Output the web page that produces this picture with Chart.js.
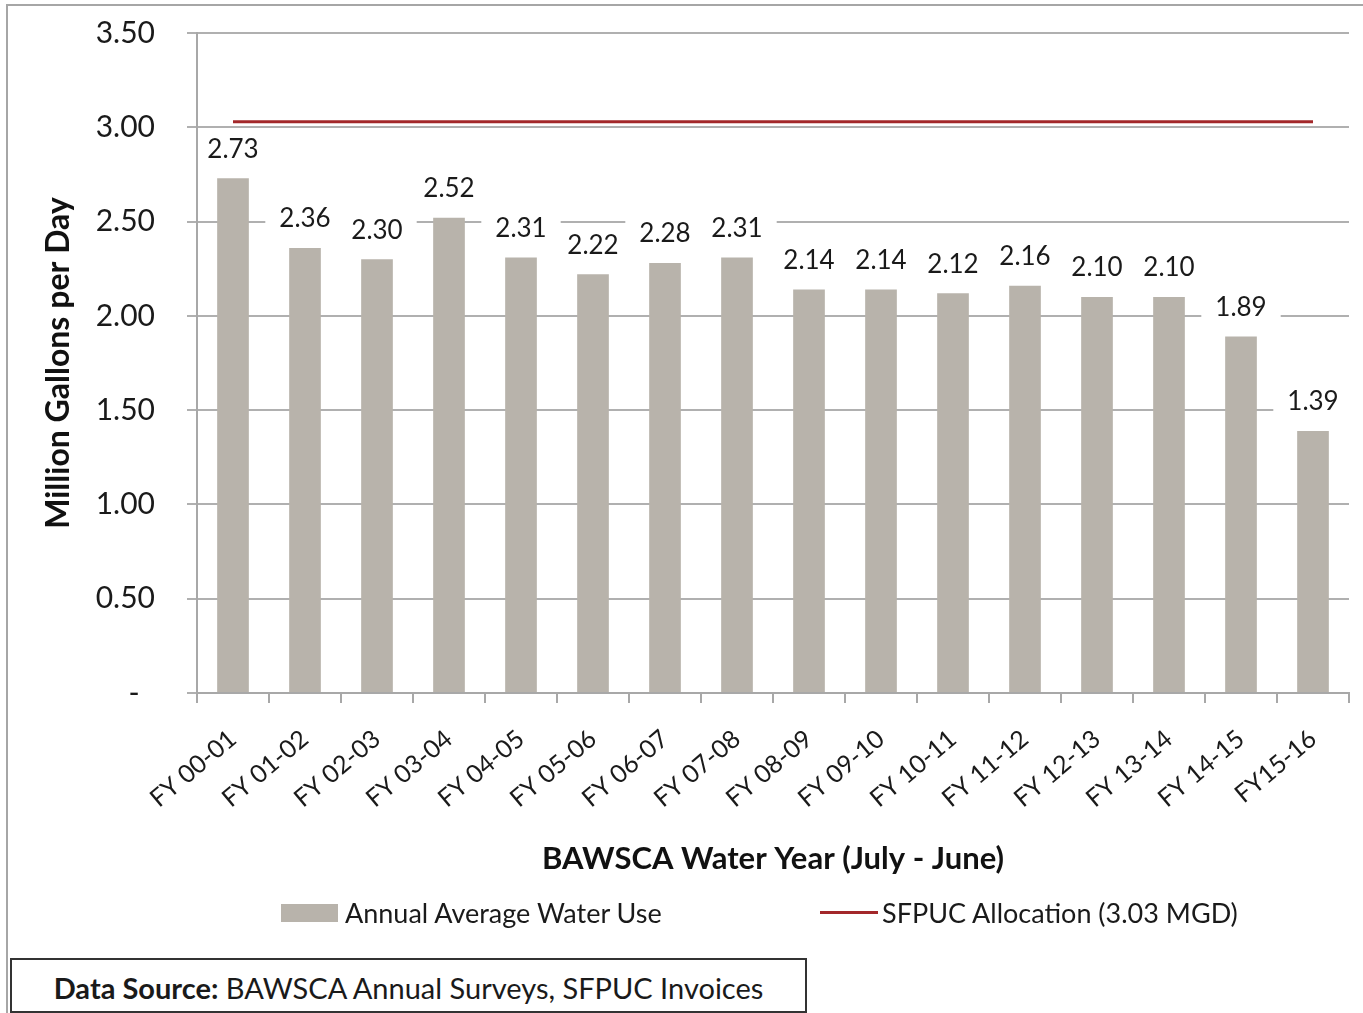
<!DOCTYPE html>
<html>
<head>
<meta charset="utf-8">
<script src="https://cdn.jsdelivr.net/npm/chart.js@4/dist/chart.umd.min.js"></script>
<style>
  html, body { margin: 0; padding: 0; background: #ffffff; }
  body { width: 1363px; height: 1013px; position: relative; overflow: hidden; font-family: Lato, "Open Sans", sans-serif; }
  #frame { position: absolute; left: 6px; top: 4px; width: 1400px; height: 1100px; border: 2px solid #a6a6a6; box-sizing: border-box; }
  #chart { position: absolute; left: 0; top: 0; }
  .legend-item { position: absolute; display: flex; align-items: center; font-size: 27px; color: #1a1a1a; white-space: nowrap; }
  .sw-bar { width: 57px; height: 18px; background: #b8b3ab; margin-right: 7px; }
  .sw-line { width: 58px; height: 3px; background: #a3282a; margin-right: 4px; }
  #source { position: absolute; left: 10px; top: 958px; width: 797px; height: 55px; border: 2px solid #333; box-sizing: border-box; background: #fff;
            font-size: 29px; color: #1a1a1a; text-align: center; line-height: 55px; white-space: nowrap; }
</style>
</head>
<body>
<div id="frame"></div>
<canvas id="chart" width="1363" height="1013"></canvas>
<div class="legend-item" id="lg1" style="left:281px; top:896px;"><div class="sw-bar"></div><span id="lg1t"></span></div>
<div class="legend-item" id="lg2" style="left:820px; top:896px;"><div class="sw-line"></div><span id="lg2t"></span></div>
<div id="source"><b>Data Source:</b> BAWSCA Annual Surveys, SFPUC Invoices</div>
<script>
const categories = ["FY 00-01","FY 01-02","FY 02-03","FY 03-04","FY 04-05","FY 05-06","FY 06-07","FY 07-08",
                    "FY 08-09","FY 09-10","FY 10-11","FY 11-12","FY 12-13","FY 13-14","FY 14-15","FY15-16"];
const waterUse = [2.73, 2.36, 2.30, 2.52, 2.31, 2.22, 2.28, 2.31, 2.14, 2.14, 2.12, 2.16, 2.10, 2.10, 1.89, 1.39];
const allocation = [3.03, 3.03, 3.03, 3.03, 3.03, 3.03, 3.03, 3.03, 3.03, 3.03, 3.03, 3.03, 3.03, 3.03, 3.03, 3.03];
const seriesNames = ["Annual Average Water Use", "SFPUC Allocation (3.03 MGD)"];
const yTicks = [0, 0.5, 1.0, 1.5, 2.0, 2.5, 3.0, 3.5];
const yTitle = "Million Gallons per Day";
const xTitle = "BAWSCA Water Year (July - June)";

document.getElementById('lg1t').textContent = seriesNames[0];
document.getElementById('lg2t').textContent = seriesNames[1];

const FONT = "Lato, 'Open Sans', sans-serif";

const barLabels = {
  id: 'barLabels',
  afterDatasetsDraw(chart) {
    const ctx = chart.ctx;
    const area = chart.chartArea;
    const meta = chart.getDatasetMeta(0);
    ctx.save();
    ctx.font = "26px " + FONT;
    ctx.textAlign = 'center';
    ctx.textBaseline = 'middle';
    meta.data.forEach((el, i) => {
      const txt = waterUse[i].toFixed(2);
      const w = ctx.measureText(txt).width;
      const cy = el.y - 29;
      ctx.save();
      ctx.beginPath();
      ctx.rect(area.left + 2, area.top, area.right - area.left - 2, area.bottom - area.top);
      ctx.clip();
      ctx.fillStyle = '#ffffff';
      ctx.fillRect(el.x - w / 2 - 14, cy - 14, w + 28, 28);
      ctx.restore();
      ctx.fillStyle = '#1a1a1a';
      ctx.fillText(txt, el.x, cy);
    });
    ctx.restore();
  }
};

new Chart(document.getElementById('chart'), {
  data: {
    labels: categories,
    datasets: [
      { type: 'bar', label: seriesNames[0], data: waterUse, backgroundColor: '#b8b3ab',
        barPercentage: 0.44, categoryPercentage: 1.0, order: 2 },
      { type: 'line', label: seriesNames[1], data: allocation, borderColor: '#a3282a', borderWidth: 3,
        pointRadius: 0, fill: false, order: 1 }
    ]
  },
  options: {
    responsive: false,
    animation: false,
    layout: { padding: { left: 0, top: 33, right: 14, bottom: 135 } },
    plugins: { legend: { display: false }, tooltip: { enabled: false } },
    scales: {
      x: {
        grid: { display: true, drawOnChartArea: false, drawTicks: true, tickLength: 10, offset: true,
                color: '#a8a8a8', lineWidth: 2 },
        border: { display: true, color: '#a8a8a8', width: 2 },
        ticks: { autoSkip: false, minRotation: 40, maxRotation: 40, padding: 21,
                 font: { family: FONT, size: 25 }, color: '#1a1a1a' },
        title: { display: true, text: xTitle, font: { family: FONT, size: 31, weight: 'bold' }, color: '#111',
                 padding: { top: 0, bottom: 0 } },
        afterFit(s) { s.height = 185; }
      },
      y: {
        min: 0, max: 3.5,
        afterBuildTicks(s) { s.ticks = yTicks.map(v => ({ value: v })); },
        grid: { color: '#b0b0b0', lineWidth: 2, tickLength: 10, drawTicks: true },
        border: { display: true, color: '#a8a8a8', width: 2 },
        ticks: { padding: 32, font: { family: FONT, size: 30 }, color: '#1a1a1a',
                 callback: v => v === 0 ? '-  ' : Number(v).toFixed(2) },
        title: { display: true, text: yTitle, font: { family: FONT, size: 32, weight: 'bold' }, color: '#111',
                 padding: { top: 39, bottom: 0 } },
        afterFit(s) { s.width = 197; s.paddingTop = 0; s.paddingBottom = 0; }
      }
    }
  },
  plugins: [barLabels]
});
</script>
</body>
</html>
